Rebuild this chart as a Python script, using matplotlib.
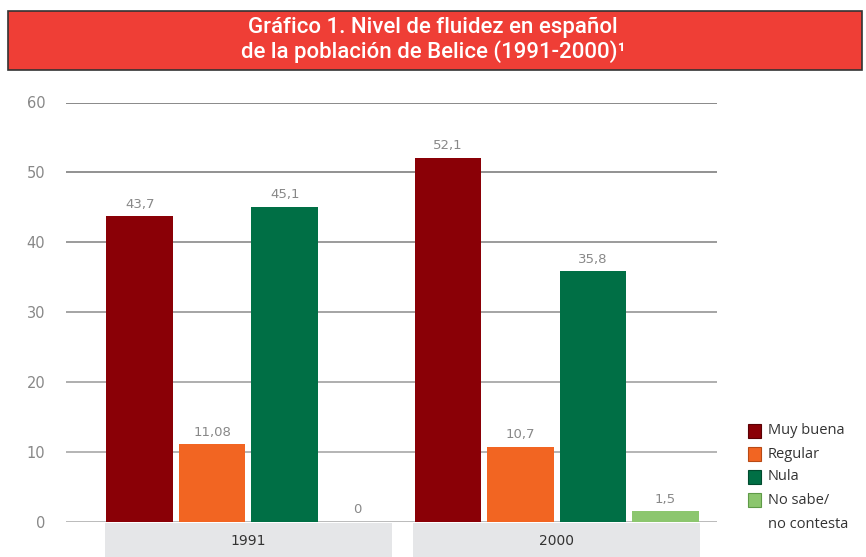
import numpy as np
import matplotlib.pyplot as plt
from matplotlib.patches import Rectangle

years = ['1991', '2000']
series = ['Muy buena', 'Regular', 'Nula', 'No sabe/\nno contesta']
values = {
    'Muy buena': [43.7, 52.1],
    'Regular': [11.08, 10.7],
    'Nula': [45.1, 35.8],
    'No sabe/\nno contesta': [0, 1.5],
}
labels = {
    'Muy buena': ['43,7', '52,1'],
    'Regular': ['11,08', '10,7'],
    'Nula': ['45,1', '35,8'],
    'No sabe/\nno contesta': ['0', '1,5'],
}
colors = ['#8a0006', '#f26522', '#006f45', '#8cc66e']
edge_colors = ['#5a0004', '#b84a15', '#004a2e', '#5f9a48']

W, H = 866, 557
fig = plt.figure(figsize=(W / 100, H / 100), dpi=100)

# title banner
fig.patches.append(Rectangle((8 / W, 1 - 70 / H), 854 / W, 59 / H, transform=fig.transFigure,
                             facecolor='#ef3e36', edgecolor='#333333', linewidth=1.2))
title_font = ['Roboto', 'DejaVu Sans']
fig.text(433 / W, 1 - 27 / H, 'Gráfico 1. Nivel de fluidez en español', color='white',
         fontsize=16, fontweight='medium', ha='center', va='center', family=title_font)
fig.text(433 / W, 1 - 52 / H, 'de la población de Belice (1991-2000)¹', color='white',
         fontsize=16, fontweight='medium', ha='center', va='center', family=title_font)

ax = fig.add_axes([66 / W, 35.5 / H, (717 - 66) / W, 419 / H])
ax.set_xlim(-0.592, 1.520)
ax.set_ylim(0, 60)

pitch = 0.2352
width = 0.2157
x = np.arange(len(years))

# gridlines, darker at the top
yticks = np.arange(0, 61, 10)
grid_cols = ['#a8a8a8', '#a0a0a0', '#989898', '#8c8c8c', '#808080', '#747474', '#6a6a6a']
for yt, gc in zip(yticks, grid_cols):
    ax.axhline(yt, color=gc, linewidth=1.1, zorder=1)

for i, s in enumerate(series):
    xs = x + (i - 1.5) * pitch
    ax.bar(xs, values[s], width=width, color=colors[i], zorder=2, label=s)
    for xb, v, lab in zip(xs, values[s], labels[s]):
        ax.annotate(lab, (xb, v), xytext=(0, 8.5), textcoords='offset points',
                    ha='center', va='center', fontsize=9.5, color='#888888')

# category boxes under the axis
for xi, yr in zip(x, years):
    ax.add_patch(Rectangle((xi - 0.4655, -0.0847), 0.931, 0.0811,
                           transform=ax.get_xaxis_transform(), facecolor='#e5e6e8',
                           edgecolor='none', clip_on=False))
    ax.text(xi, -0.047, yr, transform=ax.get_xaxis_transform(), ha='center', va='center',
            fontsize=10, color='#333333')

ax.set_yticks(yticks)
ax.set_yticklabels([str(v) for v in yticks], fontsize=10.5, color='#888888')
ax.tick_params(axis='y', length=0, pad=15)
ax.set_xticks([])
for sp in ax.spines.values():
    sp.set_visible(False)

# legend
leg_y = [431, 454, 477, 500]
leg_font = ['Open Sans', 'DejaVu Sans']
for i, s in enumerate(series):
    fig.patches.append(Rectangle((748 / W, 1 - (leg_y[i] + 7) / H), 13 / W, 14 / H,
                                 transform=fig.transFigure, facecolor=colors[i],
                                 edgecolor=edge_colors[i], linewidth=0.8))
    fig.text(768 / W, 1 - leg_y[i] / H, s.split('\n')[0], fontsize=10.5, color='#333333',
             va='center', ha='left', family=leg_font)
fig.text(768 / W, 1 - 524 / H, 'no contesta', fontsize=10.5, color='#333333',
         va='center', ha='left', family=leg_font)

fig.savefig('out.png', dpi=100)
